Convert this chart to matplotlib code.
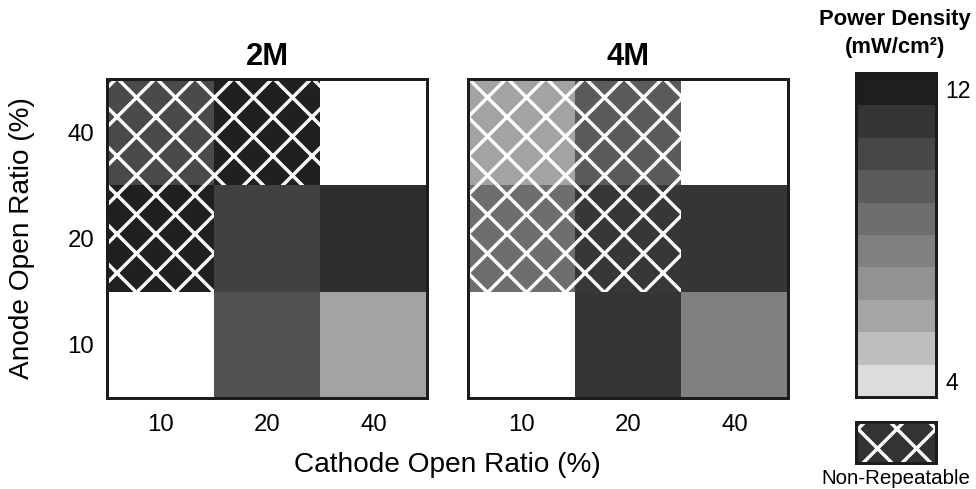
import numpy as np
import matplotlib.pyplot as plt
from matplotlib.colors import LinearSegmentedColormap, Normalize
from matplotlib.patches import Rectangle

plt.rcParams['font.family'] = ['Liberation Sans', 'DejaVu Sans']
plt.rcParams['hatch.linewidth'] = 1.05

cathode = ['10', '20', '40']
anode = ['10', '20', '40']          # bottom -> top
panels = ['2M', '4M']

# power density (mW/cm2), rows = anode 10, 20, 40 ; cols = cathode 10, 20, 40
pd_2m = np.array([[np.nan, 9.6, 6.1],
                  [11.5, 10.3, 11.0],
                  [9.9, 11.5, np.nan]])
pd_4m = np.array([[np.nan, 10.8, 7.6],
                  [8.4, 10.7, 10.8],
                  [6.1, 9.2, np.nan]])

# cells whose result could not be repeated
nonrep_2m = np.array([[0, 0, 0],
                      [1, 0, 0],
                      [1, 1, 0]], dtype=bool)
nonrep_4m = np.array([[0, 0, 0],
                      [1, 1, 0],
                      [1, 1, 0]], dtype=bool)

vmin, vmax = 4, 12
n_bands = 10
band_colors = ['#dcdcdc', '#bebebe', '#a5a5a5', '#929292', '#808080',
               '#6e6e6e', '#5b5b5b', '#484848', '#353535', '#1e1e1e']
# anchor each grey at the middle of its band
mids = (np.arange(n_bands) + 0.5) / n_bands
anchors = [(0.0, band_colors[0])] + list(zip(mids, band_colors)) + \
          [(1.0, band_colors[-1])]
cmap = LinearSegmentedColormap.from_list('pd', anchors)
cmap.set_bad('white')
norm = Normalize(vmin, vmax)

DPI = 234
W, H = 976, 489
fig = plt.figure(figsize=(W / DPI, H / DPI), dpi=DPI)


def fx(px):
    return px / W


def fy(py):
    return 1 - py / H


def pt(px):
    return px * 72 / DPI


frame_col = '#1c1c1c'
axes_px = [(107, 427), (468, 788)]
top, bottom = 79, 398

for (x0, x1), name, vals, mask in zip(axes_px, panels, [pd_2m, pd_4m],
                                      [nonrep_2m, nonrep_4m]):
    ax = fig.add_axes([fx(x0), fy(bottom), fx(x1 - x0), (bottom - top) / H])
    mesh = ax.pcolormesh(np.arange(4), np.arange(4),
                         np.ma.masked_invalid(vals), cmap=cmap, norm=norm)
    for r, c in np.argwhere(mask):
        ax.add_patch(Rectangle((c, r), 1, 1, fill=False, hatch='xx',
                               edgecolor='white', linewidth=0))
    ax.set_xlim(0, 3)
    ax.set_ylim(0, 3)
    ax.set_xticks(np.arange(3) + 0.5, cathode)
    ax.set_yticks(np.arange(3) + 0.5, anode)
    ax.tick_params(length=0, labelsize=pt(24), pad=pt(13))
    ax.tick_params(axis='x', pad=pt(16))
    if name != '2M':
        ax.set_yticklabels([])
    for s in ax.spines.values():
        s.set_linewidth(pt(3))
        s.set_color(frame_col)
    ax.set_title(name, fontsize=pt(31), fontweight='bold', pad=pt(14))

fig.text(fx(22), fy(238), 'Anode Open Ratio (%)', rotation=90,
         ha='center', va='center', fontsize=pt(28))
fig.text(fx(447), fy(465), 'Cathode Open Ratio (%)',
         ha='center', va='center', fontsize=pt(28))

# stepped colour bar
cax = fig.add_axes([fx(856), fy(397), fx(80), (397 - 73) / H])
cb = fig.colorbar(mesh, cax=cax,
                  boundaries=np.linspace(vmin, vmax, n_bands + 1))
cb.set_ticks([11.6, 4.4], labels=['12', '4'])
cax.tick_params(length=0, labelsize=pt(23), pad=pt(9))
cb.outline.set_linewidth(pt(3))
cb.outline.set_edgecolor(frame_col)

fig.text(fx(895), fy(20), 'Power Density', ha='center', va='center',
         fontsize=pt(22), fontweight='bold')
fig.text(fx(895), fy(47), '(mW/cm²)', ha='center', va='center',
         fontsize=pt(22), fontweight='bold')

# legend swatch for non-repeatable cells
lax = fig.add_axes([fx(856), fy(463), fx(80), 41 / H])
lax.set_facecolor('#333333')
lax.add_patch(Rectangle((0, 0), 1, 1, transform=lax.transAxes, fill=False,
                        hatch='xx', edgecolor='white', linewidth=0))
lax.set_xticks([])
lax.set_yticks([])
for s in lax.spines.values():
    s.set_linewidth(pt(3))
    s.set_color(frame_col)
fig.text(fx(896), fy(478), 'Non-Repeatable', ha='center', va='center',
         fontsize=pt(20.5))

fig.savefig('out.png', dpi=DPI)
